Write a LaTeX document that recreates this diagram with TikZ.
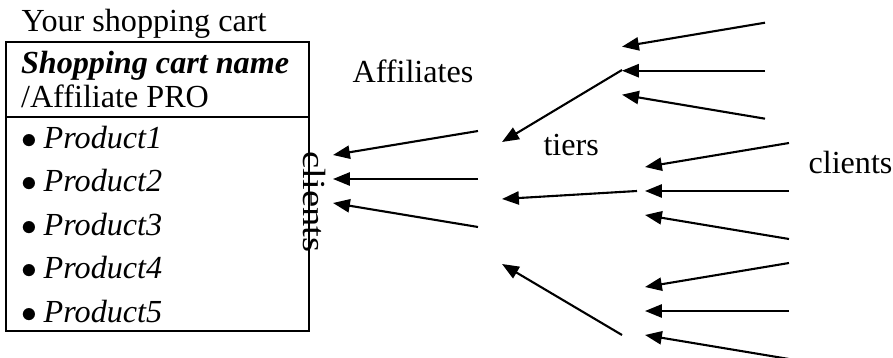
\documentclass[tikz,border=0pt]{standalone}
\usepackage{fontspec}
\setmainfont{Liberation Serif}
\usetikzlibrary{shapes.multipart}
\usetikzlibrary{arrows.meta}

\tikzset{
  feed/.style={line width=0.8pt, -{Triangle[length=6.4pt,width=5pt]}},
  word/.style={anchor=base west, inner sep=0pt}
}
\newcommand{\cartitem}[1]{\makebox[8.6pt][l]{$\bullet$}\textit{#1}}

\begin{document}
\begin{tikzpicture}[x=0.01333cm, y=-0.01333cm, font=\fontsize{12.2}{13}\selectfont]
\useasboundingbox (0,0) rectangle (893,358);

\node[word] (title) at (21,32) {Your shopping cart};

\node[draw, line width=0.8pt,
   rectangle split, 
   rectangle split parts=2, 
   inner xsep=5.7pt, inner ysep=3pt,
   anchor=north west] (cart) at (5,41) 
  {\parbox{103.6pt}{\raggedright\fontsize{12.2}{13}\selectfont
     \textbf{\textit{Shopping cart name}}\\/Affiliate PRO}
     \nodepart{second} 
   \parbox{103.6pt}{\raggedright\fontsize{12.2}{16.5}\selectfont
     \cartitem{Product1}\\
     \cartitem{Product2}\\
     \cartitem{Product3}\\
     \cartitem{Product4}\\
     \cartitem{Product5}}};

\node[rotate=-90] (side) at (314,202) {\scalebox{1.2}[1]{clients}};
\node[word] (aff) at (352,83) {Affiliates};
\node[word] (tiers) at (543,156) {tiers};
\node[word] (clients) at (808,174) {clients};

% fans: products <- affiliates, tiers <- clients
\foreach \f/\fx/\tx/\cy in {aff/478/333/179, top/765/622/70.7, mid/789/645/191, low/789/645/311}
  \foreach \i/\s in {1/-1, 2/0, 3/1} {
    \coordinate (\f\i-from) at (\fx,\cy+48*\s);
    \coordinate (\f\i-to) at (\tx,\cy+24*\s);
    \draw[feed] (\f\i-from) -- (\f\i-to);
  }

% affiliates <- tiers
\foreach \i/\fx/\fy/\ty in {1/622/70/142, 2/637/191/199, 3/622/335/264} {
  \coordinate (tier\i-from) at (\fx,\fy);
  \coordinate (tier\i-to) at (502,\ty);
  \draw[feed] (tier\i-from) -- (tier\i-to);
}
\end{tikzpicture}
\end{document}
